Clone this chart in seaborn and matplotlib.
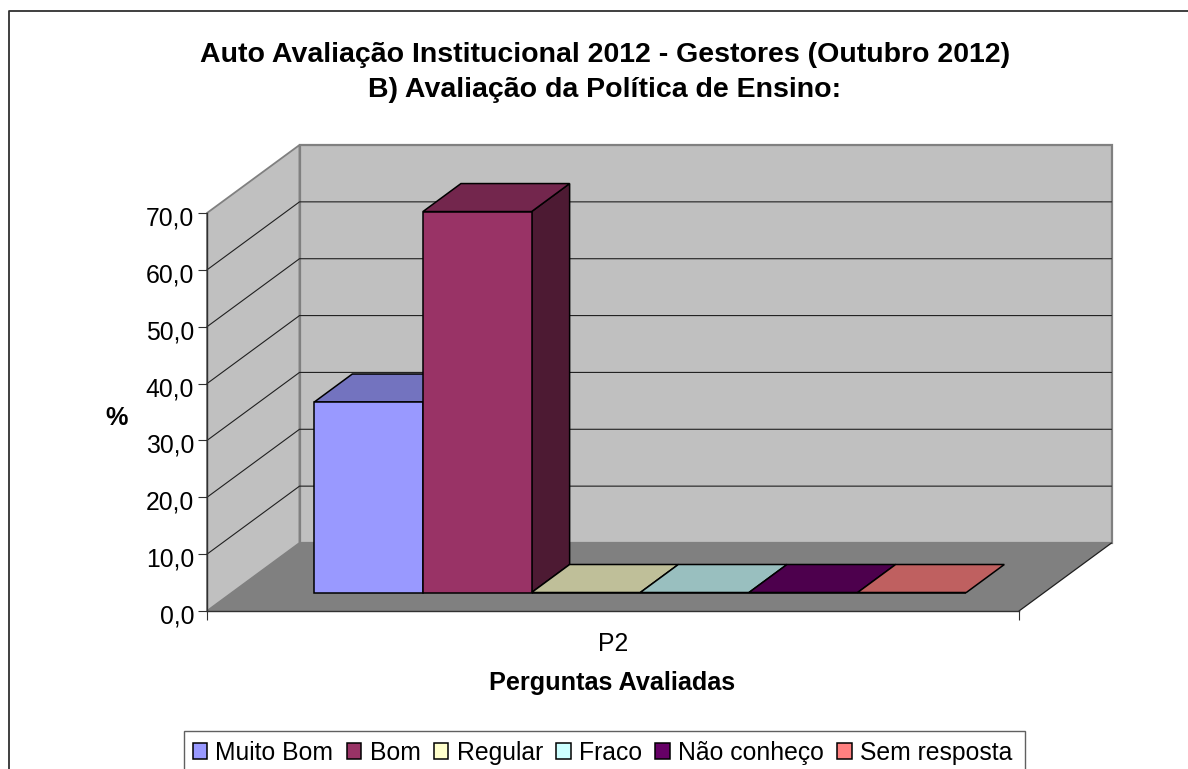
import numpy as np
import pandas as pd
import matplotlib
matplotlib.use("Agg")
import matplotlib.pyplot as plt
from matplotlib.lines import Line2D
from matplotlib.patches import Polygon, Rectangle
from matplotlib.transforms import Affine2D, IdentityTransform
from matplotlib.ticker import FixedLocator, FixedFormatter
import seaborn as sns

title_lines = ["Auto Avaliação Institucional 2012 - Gestores (Outubro 2012)",
               "B) Avaliação da Política de Ensino:"]
question = ["P2"]
concepts = ["Muito Bom", "Bom", "Regular", "Fraco", "Não conheço", "Sem resposta"]
values = [33.5, 67.0, 0.0, 0.0, 0.0, 0.0]
colors = ["#9999FF", "#993366", "#FFFFCC", "#CCFFFF", "#660066", "#FF8080"]
y_ticks = [0, 10, 20, 30, 40, 50, 60, 70]
y_labels = ["0,0", "10,0", "20,0", "30,0", "40,0", "50,0", "60,0", "70,0"]
x_label = "Perguntas Avaliadas"
y_label = "%"

W, H, DPI = 1188, 769, 100
sns.set_theme(style="white")
plt.rcParams["font.family"] = ["Liberation Sans", "DejaVu Sans"]
plt.rcParams["text.color"] = "black"
fig = plt.figure(figsize=(W / DPI, H / DPI), dpi=DPI, facecolor="white")
ax = fig.add_axes([207 / W, 1 - 611 / H, 812 / W, 398 / H])
ax.patch.set_visible(False)

df = pd.DataFrame({"Pergunta": question * len(concepts), "Conceito": concepts, "Valor": values})
sns.barplot(data=df, x="Pergunta", y="Valor", hue="Conceito", hue_order=concepts,
            palette=colors, width=0.803, gap=0, dodge=True, edgecolor="black",
            linewidth=1.1, saturation=1, ax=ax)
ax.set_xlim(-0.5, 0.5)
ax.set_ylim(0, 70)

# oblique projection (display pixels per full depth)
DEPTH = np.array([92.5, 68.0])
BAR_OFFSET = np.array([27.3, 18.5])
BAR_DEPTH = np.array([38.0, 28.0])
identity = IdentityTransform()


def to_px(x, y, off=(0, 0)):
    return ax.transData.transform((x, y)) + np.asarray(off)


def face(pts, fc, ec="none", lw=0.0, z=1.0):
    ax.add_patch(Polygon(pts, closed=True, transform=identity, facecolor=fc, edgecolor=ec,
                         linewidth=lw, clip_on=False, zorder=z, joinstyle="miter"))


x0, x1 = ax.get_xlim()
ymax = y_ticks[-1]
WALL, FLOOR, EDGE = "#C0C0C0", "#808080", "#808080"
# walls and floor
face([to_px(x0, 0), to_px(x0, ymax), to_px(x0, ymax, DEPTH), to_px(x0, 0, DEPTH)], WALL, EDGE, 1.3, 0.5)
face([to_px(x0, 0, DEPTH), to_px(x0, ymax, DEPTH), to_px(x1, ymax, DEPTH), to_px(x1, 0, DEPTH)], WALL, EDGE, 1.6, 0.5)
for v in y_ticks[1:-1]:
    line = [to_px(x0, v), to_px(x0, v, DEPTH), to_px(x1, v, DEPTH)]
    ax.add_line(Line2D(*zip(*line), transform=identity, color="#202020", lw=0.8, zorder=0.7, clip_on=False))
face([to_px(x0, 0), to_px(x1, 0), to_px(x1, 0, DEPTH), to_px(x0, 0, DEPTH)], FLOOR, z=1.0)
edge = [to_px(x1, 0), to_px(x1, 0, DEPTH)]
ax.add_line(Line2D(*zip(*edge), transform=identity, color="#202020", lw=0.9, zorder=1.1, clip_on=False))

# bars: front faces come from seaborn, shifted onto the floor; depth faces follow them
shift = ax.transData + Affine2D().translate(*BAR_OFFSET)
for i, container in enumerate(ax.containers):
    for bar in container:
        bar.set_transform(shift)
        bar.set_clip_on(False)
        bar.set_zorder(3 + i + 0.2)
        bx0, bx1 = bar.get_x(), bar.get_x() + bar.get_width()
        top = bar.get_height()
        rgb = np.array(matplotlib.colors.to_rgb(colors[i]))
        fl, fr = to_px(bx0, top, BAR_OFFSET), to_px(bx1, top, BAR_OFFSET)
        br = to_px(bx1, 0, BAR_OFFSET)
        face([fl, fr, fr + BAR_DEPTH, fl + BAR_DEPTH], rgb * 0.75, "black", 1.1, 3 + i + 0.1)
        if top > 0:
            face([br, fr, fr + BAR_DEPTH, br + BAR_DEPTH], rgb * 0.5, "black", 1.1, 3 + i)

# axes
for s in ("top", "right"):
    ax.spines[s].set_visible(False)
for s in ("left", "bottom"):
    ax.spines[s].set_visible(True)
    ax.spines[s].set_color("#303030")
    ax.spines[s].set_linewidth(1.0)
ax.set_yticks(y_ticks, y_labels)
ax.xaxis.set_major_locator(FixedLocator([0]))
ax.xaxis.set_major_formatter(FixedFormatter(question))
ax.xaxis.set_minor_locator(FixedLocator([x0, x1]))
ax.tick_params(axis="y", which="major", left=True, length=6.2, width=0.8, color="#303030",
               labelsize=17.8, labelcolor="black", pad=3.0)
ax.tick_params(axis="x", which="major", bottom=False, length=0, labelsize=17.8, labelcolor="black", pad=15)
ax.tick_params(axis="x", which="minor", bottom=True, length=6.2, width=0.8, color="#303030")
for lab in ax.get_yticklabels():
    lab.set_transform(lab.get_transform() + Affine2D().translate(0, -3))

ax.set_xlabel(x_label, fontsize=18.2, fontweight="bold", color="black", va="center", ha="center")
ax.xaxis.set_label_coords(612 / W, 1 - 683 / H, transform=fig.transFigure)
ax.set_ylabel(y_label, fontsize=18.2, fontweight="bold", color="black", rotation=0, va="center", ha="center")
ax.yaxis.set_label_coords(117 / W, 1 - 418 / H, transform=fig.transFigure)

fig.text(605 / W, 1 - 55 / H, title_lines[0], fontsize=20.5, fontweight="bold", color="black", ha="center", va="center")
fig.text(605 / W, 1 - 90 / H, title_lines[1], fontsize=20.5, fontweight="bold", color="black", ha="center", va="center")

# outer chart frame, running off the picture
frame = Line2D([9 / W, 9 / W, 1], [0, 1 - 11 / H, 1 - 11 / H], transform=fig.transFigure,
               color="#303030", lw=1.3)
fig.add_artist(frame)

# legend box runs off the bottom of the picture
fig.add_artist(Rectangle((183.5 / W, -0.02), (1025 - 183.5) / W, 1 - 731 / H + 0.02,
                         transform=fig.transFigure, facecolor="white", edgecolor="#606060",
                         linewidth=1.0, zorder=1))
handles, labels = ax.get_legend_handles_labels()
leg = fig.legend(handles, labels, loc="upper left", bbox_to_anchor=(192.5 / W, 1 - 741 / H),
                 bbox_transform=fig.transFigure, ncol=6, frameon=False, fontsize=17.8,
                 labelcolor="black", handlelength=0.6, handleheight=0.6, handletextpad=0.33,
                 columnspacing=0.53, borderpad=0, borderaxespad=0)
leg.set_zorder(2)
if ax.get_legend():
    ax.get_legend().remove()

fig.savefig("out.png", dpi=DPI, facecolor="white")
